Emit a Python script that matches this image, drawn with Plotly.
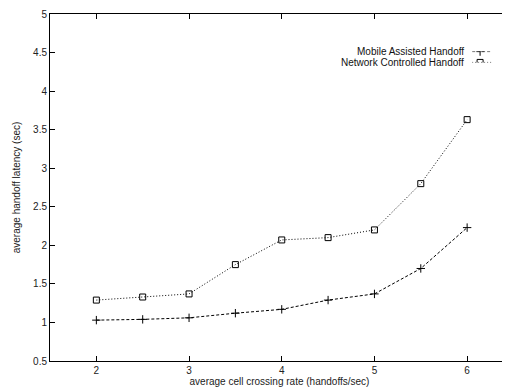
import plotly.graph_objects as go

rates = [2, 2.5, 3, 3.5, 4, 4.5, 5, 5.5, 6]
mobile_assisted = [1.03, 1.04, 1.06, 1.12, 1.17, 1.29, 1.37, 1.70, 2.23]
network_controlled = [1.29, 1.33, 1.37, 1.75, 2.07, 2.10, 2.20, 2.80, 3.63]
series_names = ["Mobile Assisted Handoff", "Network Controlled Handoff"]
x_ticks = [2, 3, 4, 5, 6]
y_ticks = [0.5, 1, 1.5, 2, 2.5, 3, 3.5, 4, 4.5, 5]

FONT = "Liberation Sans, Arial, Helvetica, sans-serif"
OFF = 8  # page body margin offset
W, H = 510 - OFF, 392 - OFF
L, R, T, B = 49.5 - OFF, 0, 10 - OFF, 392 - 361
px_per_unit = 93.0
x0 = 1.5
x1 = x0 + (W - L - R) / px_per_unit

styles = [
    dict(dash="3px,2px", symbol="cross-thin-open", size=6),
    dict(dash="1px,2px", symbol="square-open", size=6),
]

fig = go.Figure()
for name, ys, st in zip(series_names, [mobile_assisted, network_controlled], styles):
    fig.add_trace(go.Scatter(
        x=rates, y=ys, mode="lines+markers", name=name, showlegend=False,
        line=dict(color="black", width=1, dash=st["dash"]),
        marker=dict(symbol=st["symbol"], size=st["size"], color="black",
                    line=dict(color="black", width=1)),
    ))

pw = W - L - R
ph = H - T - B
def fx(page_px):
    return (page_px - OFF - L) / pw
def fy(page_py):
    return 1 - (page_py - OFF - T) / ph

row_y = [48, 59]
samp_x0, samp_x1 = 473, 493

leg_rows = [0.0, 1.0]
for i, (name, st) in enumerate(zip(series_names, styles)):
    fig.add_trace(go.Scatter(
        x=[0, 1], y=[leg_rows[i], leg_rows[i]], mode="lines", xaxis="x2", yaxis="y2",
        showlegend=False, hoverinfo="skip",
        line=dict(color="black", width=1, dash=st["dash"]),
    ))
    fig.add_trace(go.Scatter(
        x=[0.4], y=[leg_rows[i]], mode="markers", xaxis="x2", yaxis="y2",
        showlegend=False, hoverinfo="skip",
        marker=dict(symbol=st["symbol"], size=st["size"], color="black",
                    line=dict(color="black", width=1)),
    ))

for i, name in enumerate(series_names):
    fig.add_annotation(
        x=fx(467), y=fy(row_y[i]), xref="paper", yref="paper",
        text=name, showarrow=False, xanchor="right", yanchor="middle",
        font=dict(family=FONT, size=10, color="#111"),
    )

tickfont = dict(family=FONT, size=10, color="#222")
axis_common = dict(
    showgrid=False, zeroline=False, showline=True, linecolor="black", linewidth=1,
    ticks="inside", ticklen=5, tickcolor="black", tickwidth=1,
    tickfont=tickfont, mirror="ticks", ticklabeloverflow="allow",
)

fig.update_layout(
    width=W, height=H,
    margin=dict(l=L, r=R, t=T, b=B, pad=0),
    paper_bgcolor="white", plot_bgcolor="white",
    font=dict(family=FONT, size=10, color="#222"),
    xaxis=dict(
        range=[x0, x1], tickvals=x_ticks, ticktext=[str(v) for v in x_ticks],
        title=dict(text="average cell crossing rate (handoffs/sec)", font=tickfont, standoff=2),
        **axis_common,
    ),
    yaxis=dict(
        range=[0.5, 5], tickvals=y_ticks, ticktext=[("%g" % v) for v in y_ticks],
        title=dict(text="average handoff latency (sec)", font=tickfont, standoff=10),
        **axis_common,
    ),
    xaxis2=dict(domain=[fx(samp_x0), fx(samp_x1)], range=[0, 1], visible=False,
                anchor="y2", fixedrange=True, showgrid=False, zeroline=False),
    yaxis2=dict(domain=[fy(row_y[1]), fy(row_y[0])], range=[1, 0], visible=False,
                anchor="x2", fixedrange=True, showgrid=False, zeroline=False),
)

fig.write_html("out.html")
